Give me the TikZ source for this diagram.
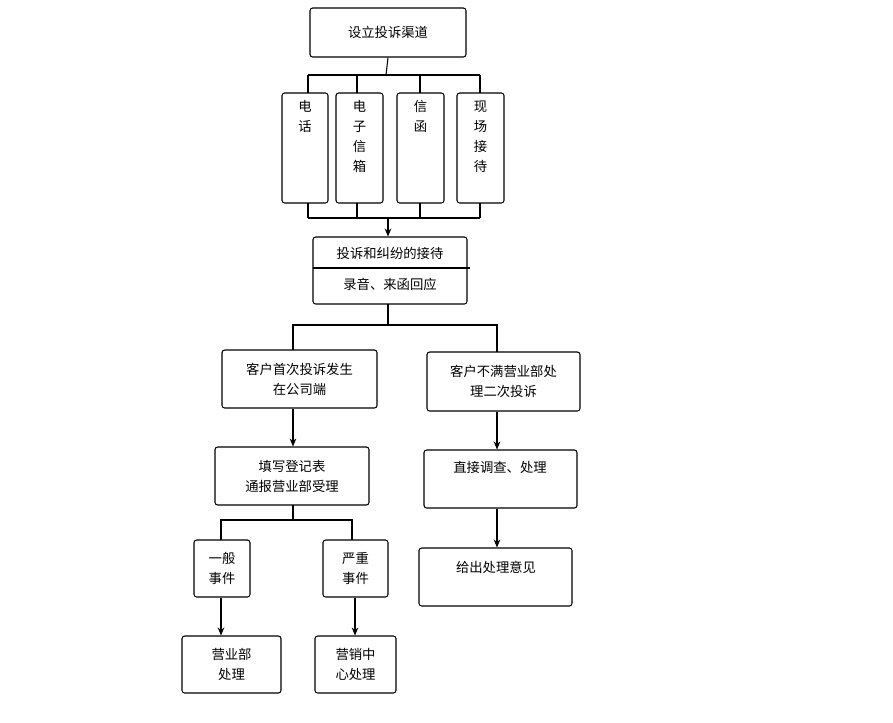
\documentclass[tikz,border=0pt]{standalone}
\usepackage{fontspec}
\newfontfamily\cjk{Noto Sans CJK SC}
\usetikzlibrary{arrows.meta, positioning, calc}
\tikzset{
  flowbox/.style={draw, rounded corners=2pt, thick, inner sep=0pt},
  flowtext/.style={font=\cjk\fontsize{10}{15}\selectfont, align=center, inner sep=0pt},
  link/.style={thick},
  arr/.style={thick, -{Stealth[length=6pt,width=5pt]}}
}
% box from corners (pixels), name
\newcommand{\pbox}[5]{\node[flowbox, minimum width=#3*0.75pt-#1*0.75pt, minimum height=#4*0.75pt-#2*0.75pt] (#5) at ({(#1+#3)/2},{(#2+#4)/2}) {};}
\begin{document}
\begin{tikzpicture}[x=0.75pt, y=-0.75pt]
  \useasboundingbox (0,0) rectangle (893,722);

  % channels
  \pbox{310}{8}{466}{57}{chan}
  \node[flowtext] (chant) at (chan) {设立投诉渠道};
  \pbox{282}{93}{328}{203}{tel}
  \pbox{336}{93}{383}{203}{mail}
  \pbox{397}{93}{444}{203}{letter}
  \pbox{457}{93}{504}{203}{visit}
  \node[flowtext, anchor=north] (telt) at ($(tel.north)+(0,8)$) {电\\话};
  \node[flowtext, anchor=north] (mailt) at ($(mail.north)+(0,8)$) {电\\子\\信\\箱};
  \node[flowtext, anchor=north] (lettert) at ($(letter.north)+(0,8)$) {信\\函};
  \node[flowtext, anchor=north] (visitt) at ($(visit.north)+(0,8)$) {现\\场\\接\\待};
  \coordinate (topbar) at (386,75);
  \draw[link] (chan.south) -- (topbar);
  \draw[link] (308,75) -- (480,75);
  \draw[link] (308,75) -- (308,93) (357,75) -- (357,93) (420,75) -- (420,93) (480,75) -- (480,93);
  \draw[link] (308,203) -- (308,218) (357,203) -- (357,218) (420,203) -- (420,218) (480,203) -- (480,218);
  \draw[link] (308,218) -- (480,218);

  % reception
  \pbox{313}{237}{467}{304}{recv}
  \coordinate (botbar) at (388,218);
  \draw[arr] (botbar) -- (recv.north -| botbar);
  \draw[link] (313,268) -- (470,268);
  \node[flowtext] (recvt1) at (390,253) {投诉和纠纷的接待};
  \node[flowtext] (recvt2) at (390,284) {录音、来函回应};

  % split
  \pbox{222}{350}{377}{408}{first}
  \pbox{427}{352}{580}{411}{second}
  \node[flowtext] (firstt) at (first) {客户首次投诉发生\\在公司端};
  \node[flowtext] (secondt) at (second) {客户不满营业部处\\理二次投诉};
  \draw[link] (388,304) -- (388,325);
  \draw[link] (293,350) -- (293,325) -- (497,325) -- (497,352);

  % left branch
  \pbox{215}{447}{369}{505}{reg}
  \node[flowtext] (regt) at (reg) {填写登记表\\通报营业部受理};
  \draw[arr] (first.south -| 293,0) -- (reg.north -| 293,0);
  \pbox{194}{540}{250}{597}{normal}
  \pbox{323}{540}{388}{597}{severe}
  \node[flowtext] (normalt) at (normal) {一般\\事件};
  \node[flowtext] (severet) at (severe) {严重\\事件};
  \draw[link] (293,505) -- (293,520);
  \draw[link] (221,540) -- (221,520) -- (352,520) -- (352,540);
  \pbox{182}{636}{281}{693}{dept}
  \pbox{315}{636}{396}{693}{center}
  \node[flowtext] (deptt) at (dept) {营业部\\处理};
  \node[flowtext] (centert) at (center) {营销中\\心处理};
  \draw[arr, very thick] (normal.south -| 221,0) -- (dept.north -| 221,0);
  \draw[arr] (severe.south -| 355,0) -- (center.north -| 355,0);

  % right branch
  \pbox{424}{450}{577}{508}{direct}
  \node[flowtext] (directt) at (500,467) {直接调查、处理};
  \draw[arr] (second.south -| 497,0) -- (direct.north -| 497,0);
  \pbox{419}{548}{572}{606}{advice}
  \node[flowtext] (advicet) at (496,567) {给出处理意见};
  \draw[arr] (direct.south -| 497,0) -- (advice.north -| 497,0);
\end{tikzpicture}
\end{document}
